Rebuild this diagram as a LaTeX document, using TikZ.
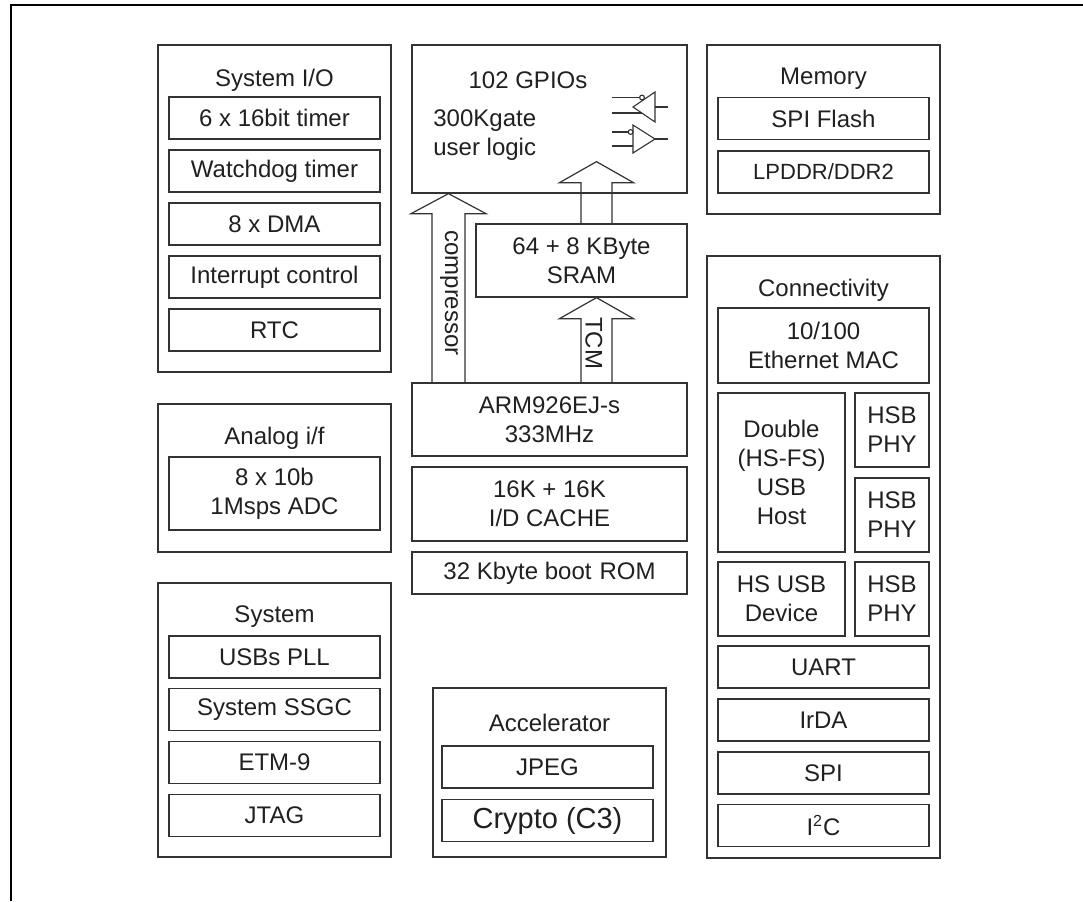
\documentclass[tikz,border=0pt]{standalone}
\usepackage{fontspec}
\setmainfont{Liberation Sans}
\usepackage{tikz}
\usetikzlibrary{positioning,calc}
\definecolor{boxcol}{rgb}{0.2,0.2,0.2}
\definecolor{txtcol}{rgb}{0.13,0.12,0.12}
\tikzstyle{grp} = [rectangle, draw=boxcol, line width=0.65pt, inner sep=0pt, minimum width=116.5pt]
\tikzstyle{blk} = [rectangle, draw=boxcol, line width=0.65pt, inner sep=0pt, minimum width=105.5pt, minimum height=21pt, align=center, text=txtcol, font=\fontsize{12}{14.5}\selectfont]
\tikzstyle{phy} = [blk, minimum width=37pt, minimum height=37pt]
\tikzstyle{ttl} = [inner sep=0pt, align=center, text=txtcol, font=\fontsize{12}{14.5}\selectfont]
\tikzstyle{hollow} = [draw=boxcol, line width=0.6pt, line join=miter]
\tikzstyle{gate} = [draw=boxcol, line width=0.55pt]

\begin{document}
\begin{tikzpicture}[x=0.5pt,y=-0.5pt]
\useasboundingbox (0,0) rectangle (1083,901);
\draw[line width=1pt] (1083,5) -- (11,5) -- (11,901);
%% left column
\node (sysio) at (274.5,208.5) [grp, minimum height=163.5pt] {};
\node (sysiot) at (274.5,80) [ttl] {System I/O};
\node (timer) at (274.5,118) [blk] {6 x 16bit timer};
\node (wdog) at (274.5,171) [blk] {Watchdog timer};
\node (dma) at (274.5,224) [blk] {8 x DMA};
\node (irq) at (274.5,277) [blk] {Interrupt control};
\node (rtc) at (274.5,330) [blk] {RTC};
\node (analog) at (274.5,478) [grp, minimum height=74pt] {};
\node (analogt) at (274.5,438) [ttl] {Analog i/f};
\node (adc) at (274.5,493.5) [blk, minimum height=36.5pt] {8 x 10b\\1Msps ADC};
\node (system) at (274.5,720) [grp, minimum height=137pt] {};
\node (systemt) at (274.5,617) [ttl] {System};
\node (pll) at (274.5,657) [blk] {USBs PLL};
\node (ssgc) at (274.5,709.5) [blk] {System SSGC};
\node (etm) at (274.5,762.5) [blk] {ETM-9};
\node (jtag) at (274.5,815.5) [blk] {JTAG};
%% centre column
\node (gpio) at (549.5,119) [grp, minimum width=137.5pt, minimum height=74pt] {};
\node (gpiot) at (528,80) [ttl] {102 GPIOs};
\node (ulogic) at (433,135) [ttl, anchor=west, align=left] {300Kgate\\user logic};
\node (sram) at (581.5,260.5) [blk, minimum height=36.5pt] {64 + 8 KByte\\SRAM};
\node (arm) at (549.5,419.5) [blk, minimum width=137.5pt, minimum height=36.5pt] {ARM926EJ-s\\333MHz};
\node (cache) at (549.5,504) [blk, minimum width=137.5pt, minimum height=37pt] {16K + 16K\\I/D CACHE};
\node (rom) at (549.5,573) [blk, minimum width=137.5pt] {32 Kbyte boot\,\,ROM};
\node (accel) at (549.5,772.5) [grp, minimum height=84.5pt] {};
\node (accelt) at (549.5,723) [ttl] {Accelerator};
\node (jpeg) at (547.5,767) [blk] {JPEG};
\node (crypto) at (547.5,820.5) [blk, font=\fontsize{14.5}{17}\selectfont] {Crypto (C3)};
%% right column
\node (memory) at (823.5,129.5) [grp, minimum height=84.5pt] {};
\node (memoryt) at (823.5,79) [ttl] {Memory};
\node (flash) at (823.5,118.5) [blk] {SPI Flash};
\node (ddr) at (823.5,172) [blk, font=\fontsize{11}{13}\selectfont] {LPDDR/DDR2};
\node (conn) at (823.5,557) [grp, minimum height=301pt] {};
\node (connt) at (823.5,290) [ttl] {Connectivity};
\node (eth) at (823.5,345.5) [blk, minimum height=37.5pt] {10/100\\Ethernet MAC};
\node (usbhost) at (781.5,472.5) [blk, minimum width=63.5pt, minimum height=79.5pt] {Double\\(HS-FS)\\USB\\Host};
\node (phya) at (892,430) [phy] {HSB\\PHY};
\node (phyb) at (892,515) [phy] {HSB\\PHY};
\node (usbdev) at (781.5,599) [blk, minimum width=63.5pt, minimum height=37pt] {HS USB\\Device};
\node (phyc) at (892,599) [phy] {HSB\\PHY};
\node (uart) at (823.5,667) [blk] {UART};
\node (irda) at (823.5,720) [blk] {IrDA};
\node (spi) at (823.5,773) [blk] {SPI};
\node (iic) at (823.5,825.5) [blk] {I\textsuperscript{2}C};
%% buffers inside the GPIO block
\draw[gate] (633,107) -- (655,92) -- (655,122) -- cycle;
\draw[gate] (642,97.5) circle[radius=1.2pt];
\draw[gate] (612,97.5) -- (639.6,97.5) (612,113) -- (642,113) (655,107) -- (668,107);
\draw[gate] (633,125) -- (655,139) -- (633,153) -- cycle;
\draw[gate] (630.6,132) circle[radius=1.2pt];
\draw[gate] (612,132) -- (628.2,132) (612,146) -- (633,146) (655,139) -- (668,139);
%% block arrows
\coordinate (cmpx) at (448.5,0);
\coordinate (busx) at (596.5,0);
\coordinate (gpiotip) at ($(gpio.south -| busx)+(0,-32)$);
\draw[hollow] let \p1=(arm.north -| cmpx), \p2=(gpio.south -| cmpx) in
  (\x1-8.25pt,\y1) -- (\x1-8.25pt,\y2-10pt) -- (\x1-18.75pt,\y2-10pt) -- (\p2)
  -- (\x1+18.75pt,\y2-10pt) -- (\x1+8.25pt,\y2-10pt) -- (\x1+8.25pt,\y1);
\draw[hollow] let \p1=(arm.north -| busx), \p2=(sram.south -| busx) in
  (\x1-7.75pt,\y1) -- (\x1-7.75pt,\y2-10.5pt) -- (\x1-18.5pt,\y2-10.5pt) -- (\p2)
  -- (\x1+18.5pt,\y2-10.5pt) -- (\x1+7.75pt,\y2-10.5pt) -- (\x1+7.75pt,\y1);
\draw[hollow] let \p1=(sram.north -| busx), \p2=(gpiotip) in
  (\x1-7.75pt,\y1) -- (\x1-7.75pt,\y2-10.5pt) -- (\x1-18.5pt,\y2-10.5pt) -- (\p2)
  -- (\x1+18.5pt,\y2-10.5pt) -- (\x1+7.75pt,\y2-10.5pt) -- (\x1+7.75pt,\y1);
\node (cmplbl) at (449,293) [ttl, rotate=-90] {compressor};
\node (tcmlbl) at (594,343) [ttl, rotate=-90] {TCM};
\end{tikzpicture}
\end{document}
